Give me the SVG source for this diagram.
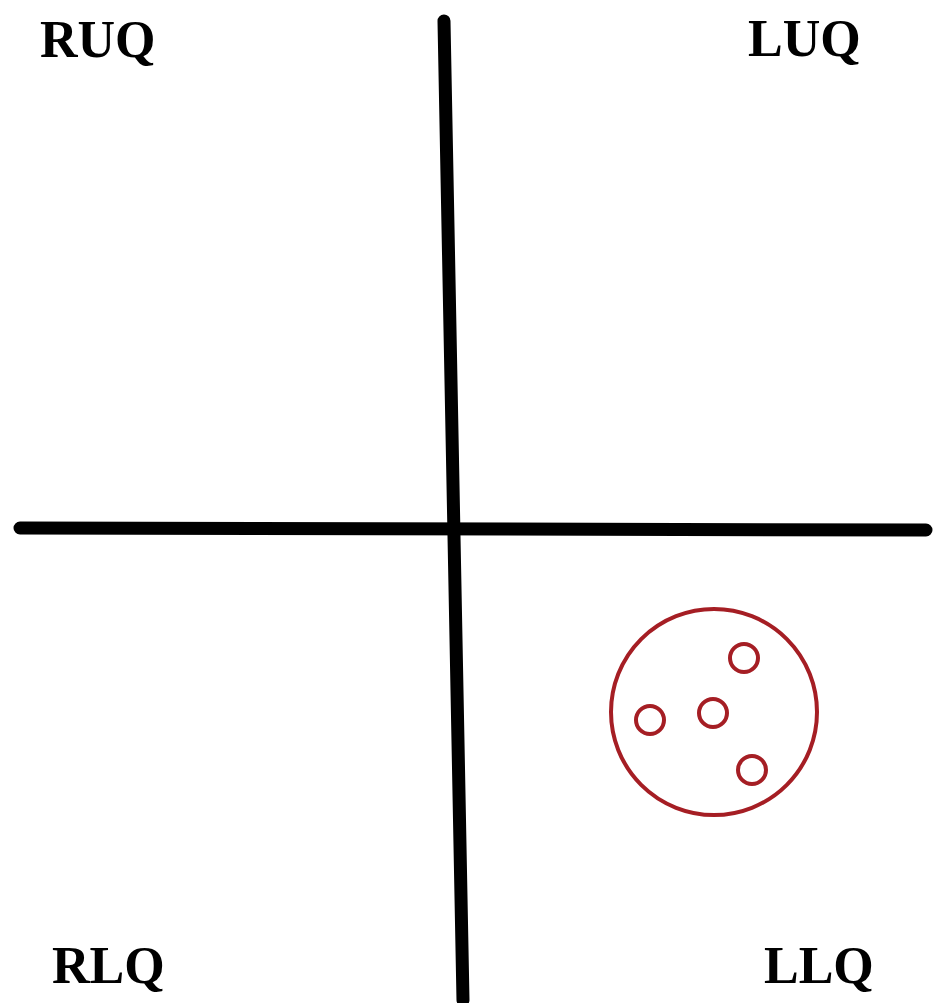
<svg xmlns="http://www.w3.org/2000/svg" width="933" height="1003" viewBox="0 0 933 1003">
<style>
.lbl{font-family:"Liberation Serif","Times New Roman",serif;font-weight:bold;font-size:52px;fill:#000}
.axis{stroke:#000;stroke-width:13;stroke-linecap:round;fill:none}
.red{stroke:#a51e24;stroke-width:4;fill:none}
</style>
<rect width="933" height="1003" fill="#fff"/>
<g id="axes">
<line class="axis" x1="444" y1="21" x2="463" y2="1000"/>
<line class="axis" x1="20" y1="528" x2="926" y2="530"/>
</g>
<g id="mass">
<circle class="red" cx="714" cy="712" r="103"/>
<circle class="red" cx="744" cy="658" r="14"/>
<circle class="red" cx="713" cy="713" r="14"/>
<circle class="red" cx="650" cy="720" r="14"/>
<circle class="red" cx="752" cy="770" r="14"/>
</g>
<g id="labels">
<text class="lbl" x="40" y="57">RUQ</text>
<text class="lbl" x="748" y="56">LUQ</text>
<text class="lbl" x="52" y="983">RLQ</text>
<text class="lbl" x="764" y="983">LLQ</text>
</g>
</svg>
